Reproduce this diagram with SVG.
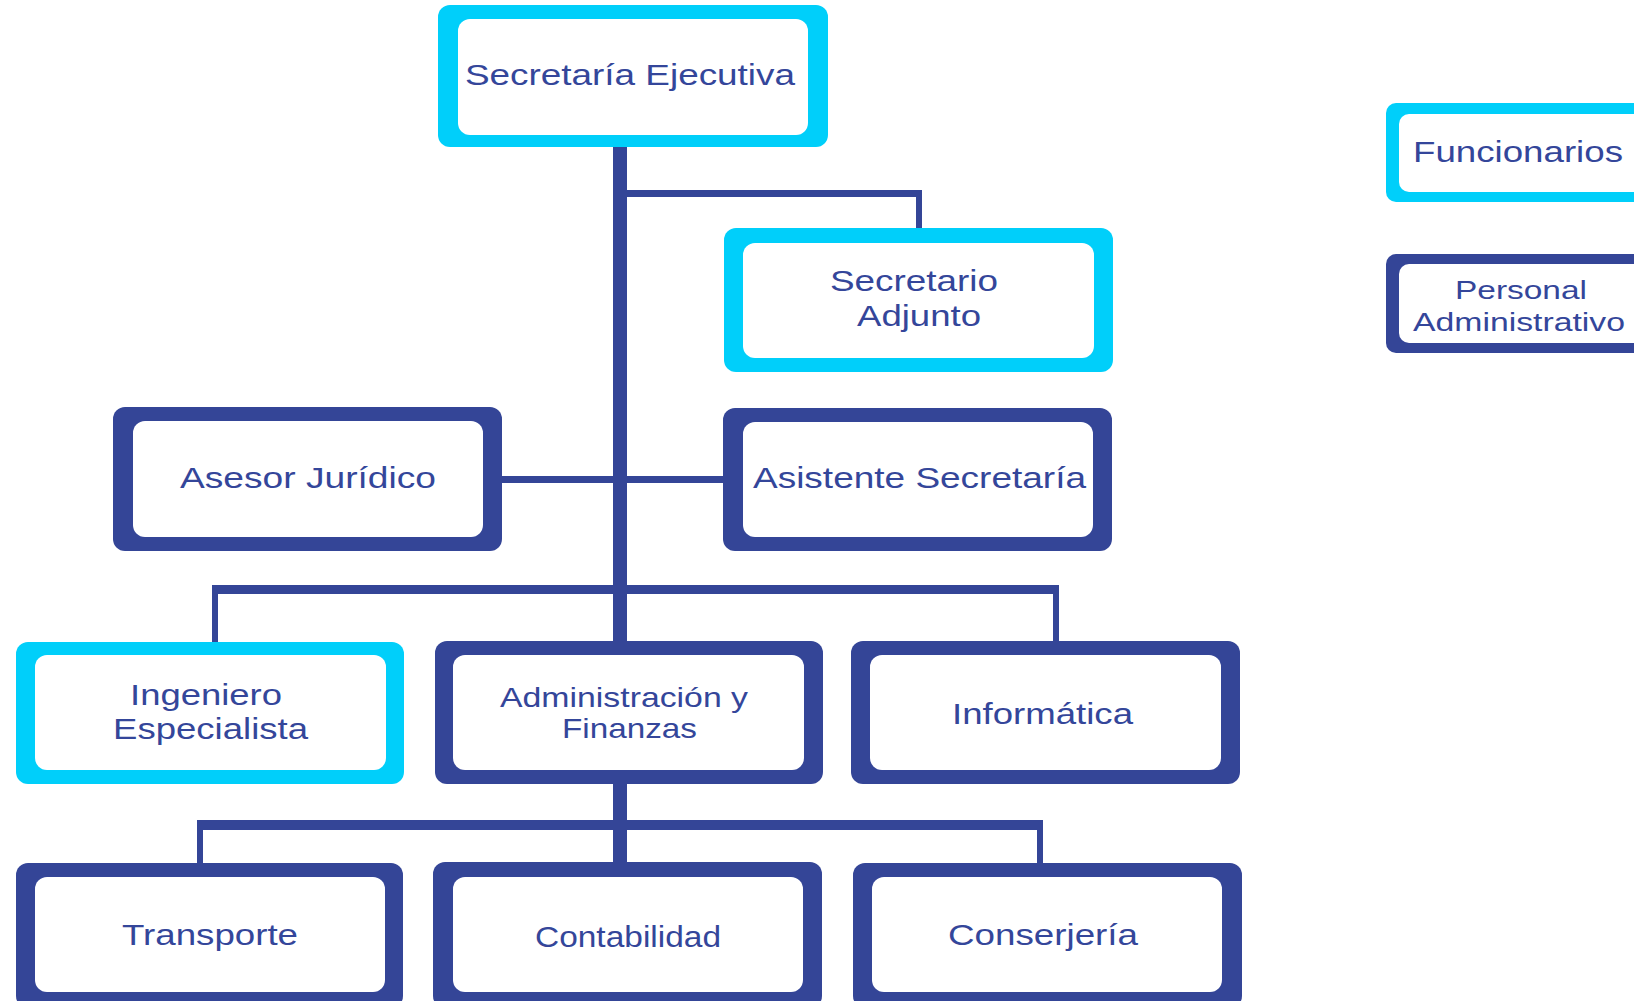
<svg xmlns="http://www.w3.org/2000/svg" width="1634" height="1001" viewBox="0 0 1634 1001">
<style>
.cy{fill:#00CFFA}
.db{fill:#344597}
.in{fill:#FFFFFF}
.t{font-family:"Liberation Sans",Arial,sans-serif;fill:#34469A;font-size:30px}
.t27{font-size:28px}
.t25{font-size:26px}
</style>
<rect width="1634" height="1001" fill="#FFFFFF"/>
<g id="connectors" class="db">
<rect x="613" y="145" width="14" height="497"/>
<rect x="627" y="190" width="295" height="7"/>
<rect x="916" y="190" width="6" height="40"/>
<rect x="500" y="476" width="225" height="7"/>
<rect x="212" y="585" width="847" height="9"/>
<rect x="212" y="585" width="6" height="58"/>
<rect x="1053" y="585" width="6" height="58"/>
<rect x="613" y="782" width="14" height="82"/>
<rect x="197" y="820" width="846" height="10"/>
<rect x="197" y="820" width="6" height="45"/>
<rect x="1037" y="820" width="6" height="45"/>
</g>
<g id="n-secretaria-ejecutiva">
<rect class="cy" x="438" y="5" width="390" height="142" rx="12"/>
<rect class="in" x="458" y="19" width="350" height="116" rx="12"/>
<text class="t" x="465" y="85" textLength="330" lengthAdjust="spacingAndGlyphs">Secretaría Ejecutiva</text>
</g>
<g id="n-secretario-adjunto">
<rect class="cy" x="724" y="228" width="389" height="144" rx="12"/>
<rect class="in" x="743" y="243" width="351" height="115" rx="12"/>
<text class="t" x="830" y="291" textLength="168" lengthAdjust="spacingAndGlyphs">Secretario</text>
<text class="t" x="857" y="326" textLength="124" lengthAdjust="spacingAndGlyphs">Adjunto</text>
</g>
<g id="n-asesor-juridico">
<rect class="db" x="113" y="407" width="389" height="144" rx="12"/>
<rect class="in" x="133" y="421" width="350" height="116" rx="12"/>
<text class="t" x="180" y="488" textLength="256" lengthAdjust="spacingAndGlyphs">Asesor Jurídico</text>
</g>
<g id="n-asistente-secretaria">
<rect class="db" x="723" y="408" width="389" height="143" rx="12"/>
<rect class="in" x="743" y="422" width="350" height="115" rx="12"/>
<text class="t" x="753" y="488" textLength="333" lengthAdjust="spacingAndGlyphs">Asistente Secretaría</text>
</g>
<g id="n-ingeniero-especialista">
<rect class="cy" x="16" y="642" width="388" height="142" rx="12"/>
<rect class="in" x="35" y="655" width="351" height="115" rx="12"/>
<text class="t" x="130" y="705" textLength="152" lengthAdjust="spacingAndGlyphs">Ingeniero</text>
<text class="t" x="113" y="739" textLength="195" lengthAdjust="spacingAndGlyphs">Especialista</text>
</g>
<g id="n-administracion-finanzas">
<rect class="db" x="435" y="641" width="388" height="143" rx="12"/>
<rect class="in" x="453" y="655" width="351" height="115" rx="12"/>
<text class="t t27" x="500" y="707" textLength="248" lengthAdjust="spacingAndGlyphs">Administración y</text>
<text class="t t27" x="562" y="738" textLength="135" lengthAdjust="spacingAndGlyphs">Finanzas</text>
</g>
<g id="n-informatica">
<rect class="db" x="851" y="641" width="389" height="143" rx="12"/>
<rect class="in" x="870" y="655" width="351" height="115" rx="12"/>
<text class="t" x="952" y="724" textLength="181" lengthAdjust="spacingAndGlyphs">Informática</text>
</g>
<g id="n-transporte">
<rect class="db" x="16" y="863" width="387" height="145" rx="12"/>
<rect class="in" x="35" y="877" width="350" height="115" rx="12"/>
<text class="t" x="122" y="945" textLength="176" lengthAdjust="spacingAndGlyphs">Transporte</text>
</g>
<g id="n-contabilidad">
<rect class="db" x="433" y="862" width="389" height="146" rx="12"/>
<rect class="in" x="453" y="877" width="350" height="115" rx="12"/>
<text class="t" x="535" y="947" textLength="186" lengthAdjust="spacingAndGlyphs">Contabilidad</text>
</g>
<g id="n-conserjeria">
<rect class="db" x="853" y="863" width="389" height="145" rx="12"/>
<rect class="in" x="872" y="877" width="350" height="115" rx="12"/>
<text class="t" x="948" y="945" textLength="190" lengthAdjust="spacingAndGlyphs">Conserjería</text>
</g>
<g id="n-funcionarios">
<rect class="cy" x="1386" y="103" width="280" height="99" rx="10"/>
<rect class="in" x="1399" y="114" width="260" height="78" rx="10"/>
<text class="t" x="1413" y="162" textLength="210" lengthAdjust="spacingAndGlyphs">Funcionarios</text>
</g>
<g id="n-personal-administrativo">
<rect class="db" x="1386" y="254" width="280" height="99" rx="10"/>
<rect class="in" x="1399" y="264" width="260" height="79" rx="10"/>
<text class="t t25" x="1455" y="299" textLength="132" lengthAdjust="spacingAndGlyphs">Personal</text>
<text class="t t25" x="1413" y="331" textLength="212" lengthAdjust="spacingAndGlyphs">Administrativo</text>
</g>
</svg>
